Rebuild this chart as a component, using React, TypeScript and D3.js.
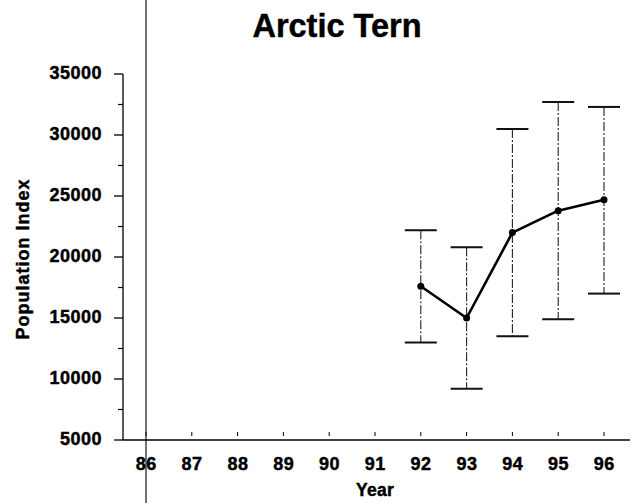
import React from "react";
import * as d3 from "d3";

// Arctic Tern population index by survey year, with upper/lower bounds
const years = [92, 93, 94, 95, 96];
const index = [17600, 15000, 22000, 23800, 24700];
const upper = [22200, 20800, 30500, 32700, 32300];
const lower = [13000, 9200, 13500, 14900, 17000];

const xTickYears = [86, 87, 88, 89, 90, 91, 92, 93, 94, 95, 96];
const yTickValues = [5000, 10000, 15000, 20000, 25000, 30000, 35000];
const yMinorValues = [7500, 12500, 17500, 22500, 27500, 32500];

const W = 639;
const H = 503;
const FONT = "'Liberation Sans', Arial, sans-serif";

export default function App() {
  const x = d3.scaleLinear().domain([86, 96]).range([146, 604]);
  const y = d3.scaleLinear().domain([5000, 35000]).range([440, 74]);
  const axisLeft = 123;
  const axisRight = 630;

  const line = d3
    .line<number>()
    .x((_, i) => x(years[i]))
    .y((v) => y(v));

  const capHalf = 16;

  // heavy label style shared by tick labels and axis titles
  const heavy = { fontWeight: "bold" as const, stroke: "#000", strokeWidth: 0.45 };

  return (
    <svg
      width={W}
      height={H}
      style={{ position: "absolute", left: 0, top: 0, background: "#fff" }}
      fontFamily={FONT}
    >
      <rect width={W} height={H} fill="#fff" />

      {/* title */}
      <text x={337} y={37} textAnchor="middle" fontSize={32.5} {...heavy}>
        Arctic Tern
      </text>

      {/* y axis */}
      <line x1={axisLeft} x2={axisLeft} y1={y(35000)} y2={y(5000)} stroke="#000" strokeWidth={1.3} />
      {yTickValues.map((v) => (
        <g key={v}>
          <line x1={axisLeft - 9} x2={axisLeft} y1={y(v)} y2={y(v)} stroke="#000" strokeWidth={1.3} />
          <text
            x={102}
            y={y(v) - 1}
            dy="0.36em"
            textAnchor="end"
            fontSize={18}
            letterSpacing={0.5}
            {...heavy}
          >
            {v}
          </text>
        </g>
      ))}
      {yMinorValues.map((v) => (
        <line key={v} x1={axisLeft - 5} x2={axisLeft} y1={y(v)} y2={y(v)} stroke="#000" strokeWidth={1.2} />
      ))}

      {/* x axis */}
      <line x1={axisLeft} x2={axisRight} y1={y(5000)} y2={y(5000)} stroke="#000" strokeWidth={1.6} />
      {xTickYears.map((yr) => (
        <g key={yr}>
          <line x1={x(yr)} x2={x(yr)} y1={y(5000) - 8} y2={y(5000) - 4} stroke="#000" strokeWidth={1} />
          <text
            x={x(yr) + 0.3}
            y={464}
            dy="0.36em"
            textAnchor="middle"
            fontSize={18}
            letterSpacing={0.5}
            {...heavy}
          >
            {yr}
          </text>
        </g>
      ))}

      {/* axis titles */}
      <text x={375} y={496} textAnchor="middle" fontSize={17.5} letterSpacing={0.3} {...heavy}>
        Year
      </text>
      <text
        transform={`translate(29, ${259}) rotate(-90)`}
        textAnchor="middle"
        fontSize={18}
        letterSpacing={1}
        {...heavy}
      >
        Population Index
      </text>

      {/* error bars */}
      {years.map((yr, i) => (
        <g key={yr}>
          <line
            x1={x(yr)}
            x2={x(yr)}
            y1={y(upper[i])}
            y2={y(lower[i])}
            stroke="#222"
            strokeWidth={1.1}
            strokeDasharray="9,2,2,2"
          />
          <line x1={x(yr) - capHalf} x2={x(yr) + capHalf} y1={y(upper[i])} y2={y(upper[i])} stroke="#111" strokeWidth={2} />
          <line x1={x(yr) - capHalf} x2={x(yr) + capHalf} y1={y(lower[i])} y2={y(lower[i])} stroke="#111" strokeWidth={2} />
        </g>
      ))}

      {/* index line */}
      <path d={line(index) ?? ""} fill="none" stroke="#000" strokeWidth={2.6} strokeLinejoin="round" />
      {years.map((yr, i) => (
        <circle key={yr} cx={x(yr)} cy={y(index[i])} r={3.5} fill="#000" />
      ))}

      {/* vertical rule across the sheet */}
      <line x1={146} x2={146} y1={0} y2={H} stroke="#000" strokeWidth={1.1} />
    </svg>
  );
}
